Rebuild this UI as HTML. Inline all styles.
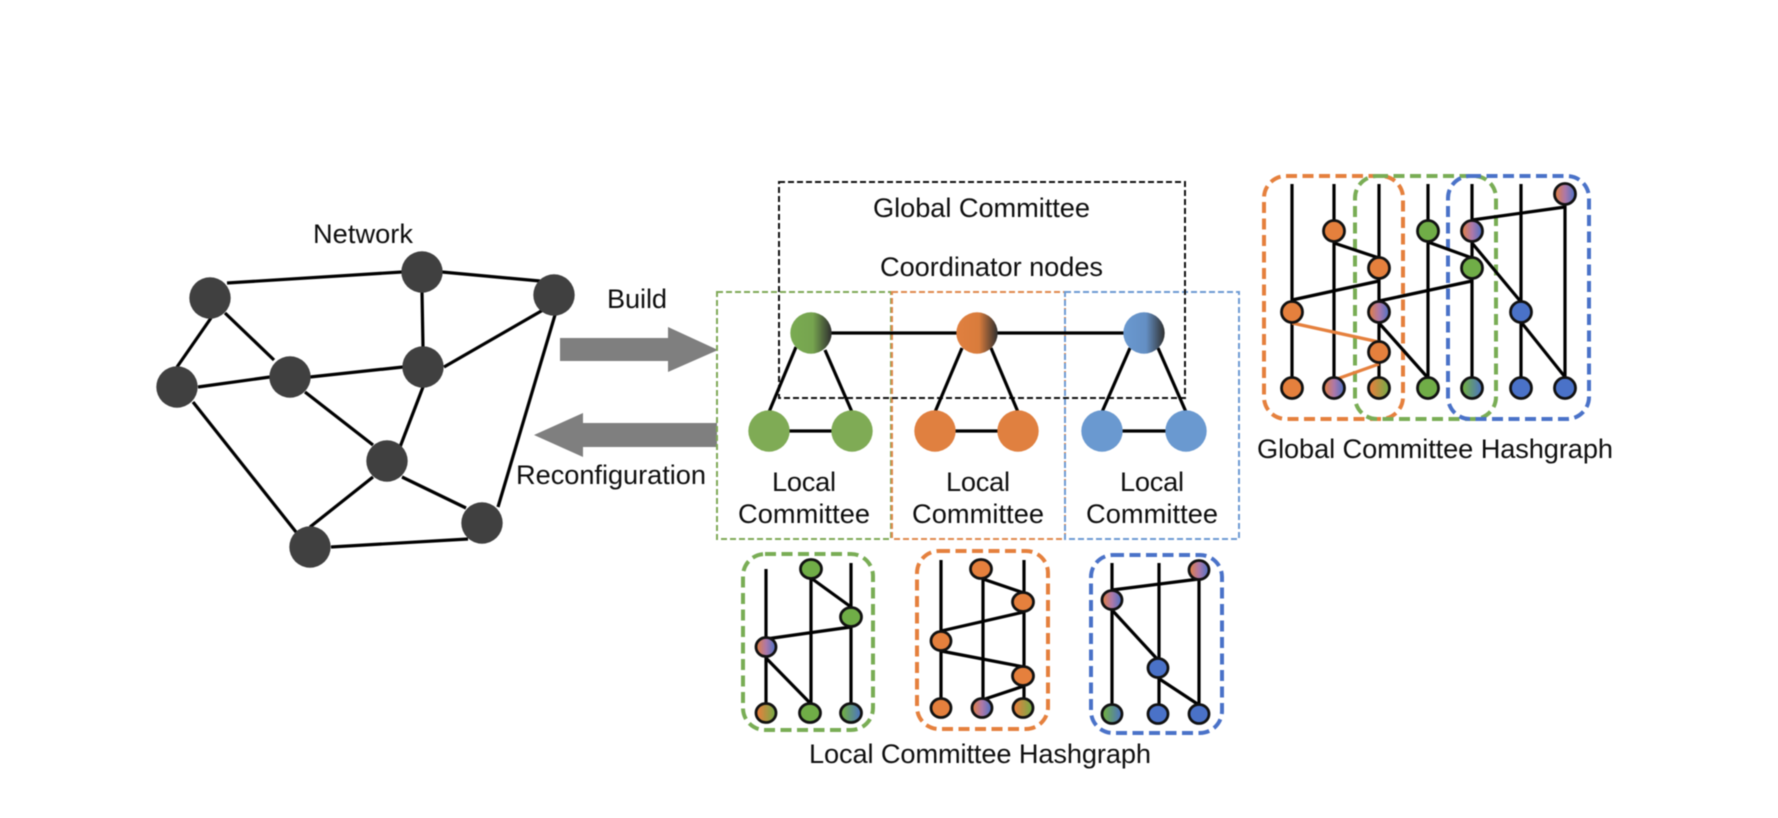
<!DOCTYPE html>
<html><head><meta charset="utf-8">
<style>
html,body{margin:0;padding:0;background:#fff;width:1778px;height:818px;overflow:hidden}
svg{display:block;filter:blur(0.6px)}
text{font-family:"Liberation Sans",sans-serif;fill:#0e0e0e;font-size:27.2px}
.e line{stroke:#000;stroke-width:3.2}
.h line{stroke:#000;stroke-width:3.2}
.h line.o{stroke:#e5803d}
.n circle,.n ellipse{stroke:#111;stroke-width:2.8}
</style></head><body>
<svg width="1778" height="818" viewBox="0 0 1778 818" xmlns="http://www.w3.org/2000/svg">
<defs>
<linearGradient id="cg"><stop offset="0" stop-color="#7aab52"/><stop offset=".55" stop-color="#76a44f"/><stop offset="1" stop-color="#2f2f2f"/></linearGradient>
<linearGradient id="co"><stop offset="0" stop-color="#e08040"/><stop offset=".55" stop-color="#d97c3c"/><stop offset="1" stop-color="#2f2f2f"/></linearGradient>
<linearGradient id="cb"><stop offset="0" stop-color="#6a99d0"/><stop offset=".55" stop-color="#648fc4"/><stop offset="1" stop-color="#2f2f2f"/></linearGradient>
<linearGradient id="m"><stop offset="0" stop-color="#e5803d"/><stop offset=".5" stop-color="#ae78a8"/><stop offset="1" stop-color="#4a72c8"/></linearGradient>
<linearGradient id="og"><stop offset=".1" stop-color="#e5803d"/><stop offset="1" stop-color="#70ad47"/></linearGradient>
<linearGradient id="gb"><stop offset=".1" stop-color="#70ad47"/><stop offset="1" stop-color="#4a72c8"/></linearGradient>
</defs>
<rect width="1778" height="818" fill="#fff"/>

<!-- Network -->
<g class="e">
<line x1="227" y1="283" x2="402" y2="272"/><line x1="442" y1="272" x2="540" y2="281"/>
<line x1="422" y1="292" x2="423" y2="347"/><line x1="444" y1="367" x2="543" y2="310"/>
<line x1="555" y1="315" x2="498" y2="507"/><line x1="211" y1="318" x2="177" y2="367"/>
<line x1="225" y1="313" x2="274" y2="360"/><line x1="198" y1="387" x2="270" y2="377"/>
<line x1="310" y1="377" x2="403" y2="367"/><line x1="305" y1="392" x2="373" y2="445"/>
<line x1="423" y1="387" x2="400" y2="447"/><line x1="193" y1="402" x2="296" y2="532"/>
<line x1="373" y1="477" x2="310" y2="527"/><line x1="402" y1="477" x2="466" y2="508"/>
<line x1="331" y1="547" x2="468" y2="539"/>
</g>
<g fill="#404040">
<circle cx="210" cy="298" r="20.7"/><circle cx="422" cy="272" r="20.7"/><circle cx="554" cy="295" r="20.7"/>
<circle cx="177" cy="387" r="20.7"/><circle cx="290" cy="377" r="20.7"/><circle cx="423" cy="367" r="20.7"/>
<circle cx="387" cy="461" r="20.7"/><circle cx="482" cy="523" r="20.7"/><circle cx="310" cy="547" r="20.7"/>
</g>
<text x="313" y="243" textLength="100">Network</text>
<text x="607" y="308" textLength="60">Build</text>
<text x="516" y="484" textLength="190">Reconfiguration</text>

<!-- Arrows -->
<polygon points="560,338 668,338 668,327 718,350 668,372 668,361 560,361" fill="#7f7f7f"/>
<polygon points="717,423 583,423 583,413 534,435 583,457 583,447 717,447" fill="#7f7f7f"/>

<!-- Committee boxes -->
<g fill="none" stroke-width="2" stroke-dasharray="6 3">
<rect x="717" y="292" width="174" height="247" stroke="#7fa957"/>
<rect x="892" y="292" width="173" height="247" stroke="#e08a4e"/>
<rect x="1065" y="292" width="174" height="247" stroke="#6d9ad2"/>
</g>
<rect x="779" y="182" width="406" height="216" fill="none" stroke="#111" stroke-width="2" stroke-dasharray="6 3"/>

<g class="e">
<line x1="811" y1="333" x2="1144" y2="333"/>
<line x1="796" y1="347" x2="769" y2="412"/><line x1="825" y1="350" x2="852" y2="412"/><line x1="769" y1="431" x2="852" y2="431"/>
<line x1="962" y1="348" x2="935" y2="412"/><line x1="991" y1="348" x2="1018" y2="412"/><line x1="935" y1="431" x2="1018" y2="431"/>
<line x1="1130" y1="348" x2="1102" y2="412"/><line x1="1158" y1="348" x2="1186" y2="412"/><line x1="1102" y1="431" x2="1186" y2="431"/>
</g>
<circle cx="811" cy="333" r="20.7" fill="url(#cg)"/><circle cx="977" cy="333" r="20.7" fill="url(#co)"/><circle cx="1144" cy="333" r="20.7" fill="url(#cb)"/>
<circle cx="769" cy="431" r="20.7" fill="#7fab55"/><circle cx="852" cy="431" r="20.7" fill="#7fab55"/>
<circle cx="935" cy="431" r="20.7" fill="#e08040"/><circle cx="1018" cy="431" r="20.7" fill="#e08040"/>
<circle cx="1102" cy="431" r="20.7" fill="#6a99d0"/><circle cx="1186" cy="431" r="20.7" fill="#6a99d0"/>

<text x="873" y="217" textLength="217">Global Committee</text>
<text x="880" y="276" textLength="223">Coordinator nodes</text>
<text x="772" y="491" textLength="64">Local</text><text x="738" y="523" textLength="132">Committee</text>
<text x="946" y="491" textLength="64">Local</text><text x="912" y="523" textLength="132">Committee</text>
<text x="1120" y="491" textLength="64">Local</text><text x="1086" y="523" textLength="132">Committee</text>

<!-- Global hashgraph -->
<g fill="none" stroke-width="4" stroke-dasharray="11 5.5">
<rect x="1264" y="176" width="139" height="243" rx="22" stroke="#e5803d"/>
<rect x="1355" y="176" width="141" height="243" rx="22" stroke="#79ad55"/>
<rect x="1448" y="176" width="141" height="243" rx="22" stroke="#4a72c8"/>
</g>
<g class="h">
<line x1="1292" y1="184" x2="1292" y2="388"/><line x1="1334" y1="184" x2="1334" y2="388"/>
<line x1="1379" y1="184" x2="1379" y2="388"/><line x1="1428" y1="184" x2="1428" y2="388"/>
<line x1="1472" y1="184" x2="1472" y2="388"/><line x1="1521" y1="184" x2="1521" y2="388"/>
<line x1="1565" y1="194" x2="1565" y2="388"/>
<line x1="1334" y1="243" x2="1379" y2="258"/><line x1="1379" y1="281" x2="1292" y2="300"/>
<line x1="1472" y1="281" x2="1379" y2="301"/><line x1="1379" y1="323" x2="1428" y2="378"/>
<line x1="1428" y1="242" x2="1472" y2="258"/><line x1="1565" y1="207" x2="1472" y2="220"/>
<line x1="1472" y1="243" x2="1521" y2="302"/><line x1="1521" y1="322" x2="1565" y2="377"/>
<line class="o" x1="1292" y1="323" x2="1379" y2="342"/><line class="o" x1="1379" y1="364" x2="1334" y2="380"/>
</g>
<g class="n">
<circle cx="1334" cy="231" r="10.5" fill="#e5803d"/><circle cx="1379" cy="268" r="10.5" fill="#e5803d"/>
<circle cx="1292" cy="312" r="10.5" fill="#e5803d"/><circle cx="1379" cy="312" r="10.5" fill="url(#m)"/>
<circle cx="1379" cy="352" r="10.5" fill="#e5803d"/><circle cx="1428" cy="231" r="10.5" fill="#70ad47"/>
<circle cx="1472" cy="231" r="10.5" fill="url(#m)"/><circle cx="1472" cy="268" r="10.5" fill="#70ad47"/>
<circle cx="1521" cy="312" r="10.5" fill="#4a72c8"/><circle cx="1565" cy="194" r="10.5" fill="url(#m)"/>
<circle cx="1292" cy="388" r="10.5" fill="#e5803d"/><circle cx="1334" cy="388" r="10.5" fill="url(#m)"/>
<circle cx="1379" cy="388" r="10.5" fill="url(#og)"/><circle cx="1428" cy="388" r="10.5" fill="#70ad47"/>
<circle cx="1472" cy="388" r="10.5" fill="url(#gb)"/><circle cx="1521" cy="388" r="10.5" fill="#4a72c8"/>
<circle cx="1565" cy="388" r="10.5" fill="#4a72c8"/>
</g>
<text x="1257" y="458" textLength="356">Global Committee Hashgraph</text>

<!-- Local hashgraphs -->
<g fill="none" stroke-width="4" stroke-dasharray="11 5.5">
<rect x="743" y="554" width="130" height="176" rx="22" stroke="#79ad55"/>
<rect x="917" y="551" width="131" height="178" rx="22" stroke="#e5803d"/>
<rect x="1091" y="555" width="131" height="178" rx="22" stroke="#4a72c8"/>
</g>
<g class="h">
<!-- green -->
<line x1="766" y1="569" x2="766" y2="713"/><line x1="811" y1="569" x2="811" y2="713"/><line x1="851" y1="563" x2="851" y2="713"/>
<line x1="811" y1="578" x2="851" y2="607"/><line x1="851" y1="627" x2="766" y2="639"/><line x1="766" y1="658" x2="811" y2="704"/>
<!-- orange -->
<line x1="941" y1="560" x2="941" y2="708"/><line x1="983" y1="569" x2="983" y2="708"/><line x1="1024" y1="560" x2="1024" y2="708"/>
<line x1="983" y1="579" x2="1024" y2="593"/><line x1="1024" y1="612" x2="941" y2="631"/><line x1="941" y1="651" x2="1024" y2="667"/><line x1="1024" y1="686" x2="982" y2="700"/>
<!-- blue -->
<line x1="1112" y1="563" x2="1112" y2="714"/><line x1="1159" y1="563" x2="1159" y2="714"/><line x1="1199" y1="570" x2="1199" y2="714"/>
<line x1="1199" y1="579" x2="1112" y2="590"/><line x1="1112" y1="610" x2="1158" y2="660"/><line x1="1158" y1="678" x2="1199" y2="705"/>
</g>
<g class="n">
<ellipse cx="811" cy="569" rx="10.5" ry="9.5" fill="#70ad47"/><ellipse cx="851" cy="617" rx="10.5" ry="9.5" fill="#70ad47"/>
<ellipse cx="766" cy="647" rx="10" ry="9.5" fill="url(#m)"/><ellipse cx="766" cy="713" rx="10" ry="9.5" fill="url(#og)"/>
<ellipse cx="810" cy="713" rx="10.5" ry="9.5" fill="#70ad47"/><ellipse cx="851" cy="713" rx="10.5" ry="9.5" fill="url(#gb)"/>

<ellipse cx="981" cy="569" rx="10.5" ry="9.5" fill="#e5803d"/><ellipse cx="1023" cy="602" rx="10.5" ry="9.5" fill="#e5803d"/>
<ellipse cx="941" cy="641" rx="10" ry="9.5" fill="#e5803d"/><ellipse cx="1023" cy="676" rx="10.5" ry="9.5" fill="#e5803d"/>
<ellipse cx="941" cy="708" rx="10" ry="9.5" fill="#e5803d"/><ellipse cx="982" cy="708" rx="10" ry="9.5" fill="url(#m)"/>
<ellipse cx="1023" cy="708" rx="10" ry="9.5" fill="url(#og)"/>

<ellipse cx="1199" cy="570" rx="10" ry="9.5" fill="url(#m)"/><ellipse cx="1112" cy="600" rx="10" ry="9.5" fill="url(#m)"/>
<ellipse cx="1158" cy="668" rx="10" ry="9.5" fill="#4a72c8"/><ellipse cx="1112" cy="714" rx="10" ry="9.5" fill="url(#gb)"/>
<ellipse cx="1158" cy="714" rx="10" ry="9.5" fill="#4a72c8"/><ellipse cx="1199" cy="714" rx="10" ry="9.5" fill="#4a72c8"/>
</g>
<text x="809" y="763" textLength="342">Local Committee Hashgraph</text>
</svg>
</body></html>
